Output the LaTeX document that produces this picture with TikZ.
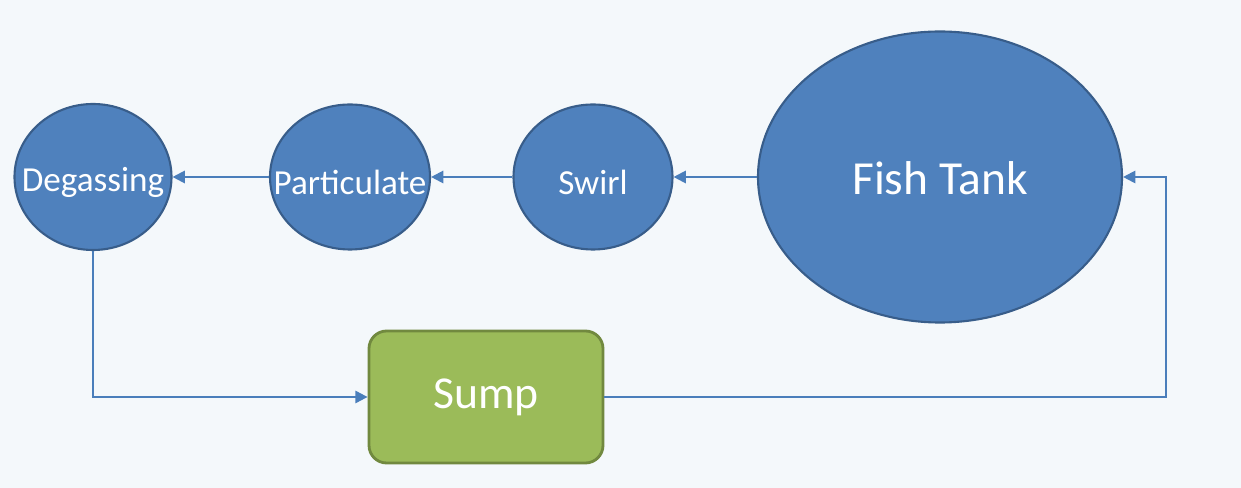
\documentclass[tikz,border=0pt]{standalone}
\usepackage{fontspec}
\setmainfont{Carlito}
\usetikzlibrary{shapes.geometric, arrows.meta, positioning}
\definecolor{bgpale}{HTML}{F4F8FB}
\definecolor{tankblue}{HTML}{4F81BD}
\definecolor{tankedge}{HTML}{385D8A}
\definecolor{sumpgreen}{HTML}{9BBB59}
\definecolor{sumpedge}{HTML}{71893F}
\definecolor{pipe}{HTML}{4A7EBB}

\begin{document}
\begin{tikzpicture}[>={Triangle[length=7pt,width=7pt]}, thick,
    stage/.style={ellipse, draw=tankedge, fill=tankblue, line width=1.2pt, inner sep=0pt},
    stagetext/.style={text=white, font=\fontsize{20}{24}\selectfont, yshift=-0.11cm},
    pipeline/.style={draw=pipe, line width=1.2pt}]
    % background
    \fill[bgpale] (0,0) rectangle (24.82,9.76);
    \useasboundingbox (0,0) rectangle (24.82,9.76);

    % filter chain
    \node[stage, minimum width=3.14cm, minimum height=2.92cm,
          label={[stagetext]center:Degassing}] (degas) at (1.86,6.22) {};
    \node[stage, minimum width=3.2cm, minimum height=2.9cm,
          label={[stagetext]center:Particulate}] (partic) at (7.0,6.22) {};
    \node[stage, minimum width=3.18cm, minimum height=2.9cm,
          label={[stagetext]center:Swirl}] (swirl) at (11.86,6.22) {};
    \node[stage, minimum width=7.28cm, minimum height=5.82cm,
          label={[stagetext, yshift=0.08cm, font=\fontsize{27}{30}\selectfont]center:Fish Tank}] (tank) at (18.8,6.22) {};

    % sump
    \node[draw=sumpedge, fill=sumpgreen, line width=1.6pt, rectangle, rounded corners=10pt,
          minimum width=4.68cm, minimum height=2.64cm, text=white,
          font=\fontsize{26}{30}\selectfont] (sump) at (9.72,1.82) {\raisebox{-0.06cm}{Sump}};

    \draw[pipeline, ->] (tank.west) -- (swirl.east);
    \draw[pipeline, ->] (swirl.west) -- (partic.east);
    \draw[pipeline, ->] (partic.west) -- (degas.east);
    \draw[pipeline, ->] (degas.south) |- (sump.west);
    \coordinate (ret) at (23.32,1.82);
    \draw[pipeline, ->] (sump.east) -- (ret) |- (tank.east);
\end{tikzpicture}
\end{document}
